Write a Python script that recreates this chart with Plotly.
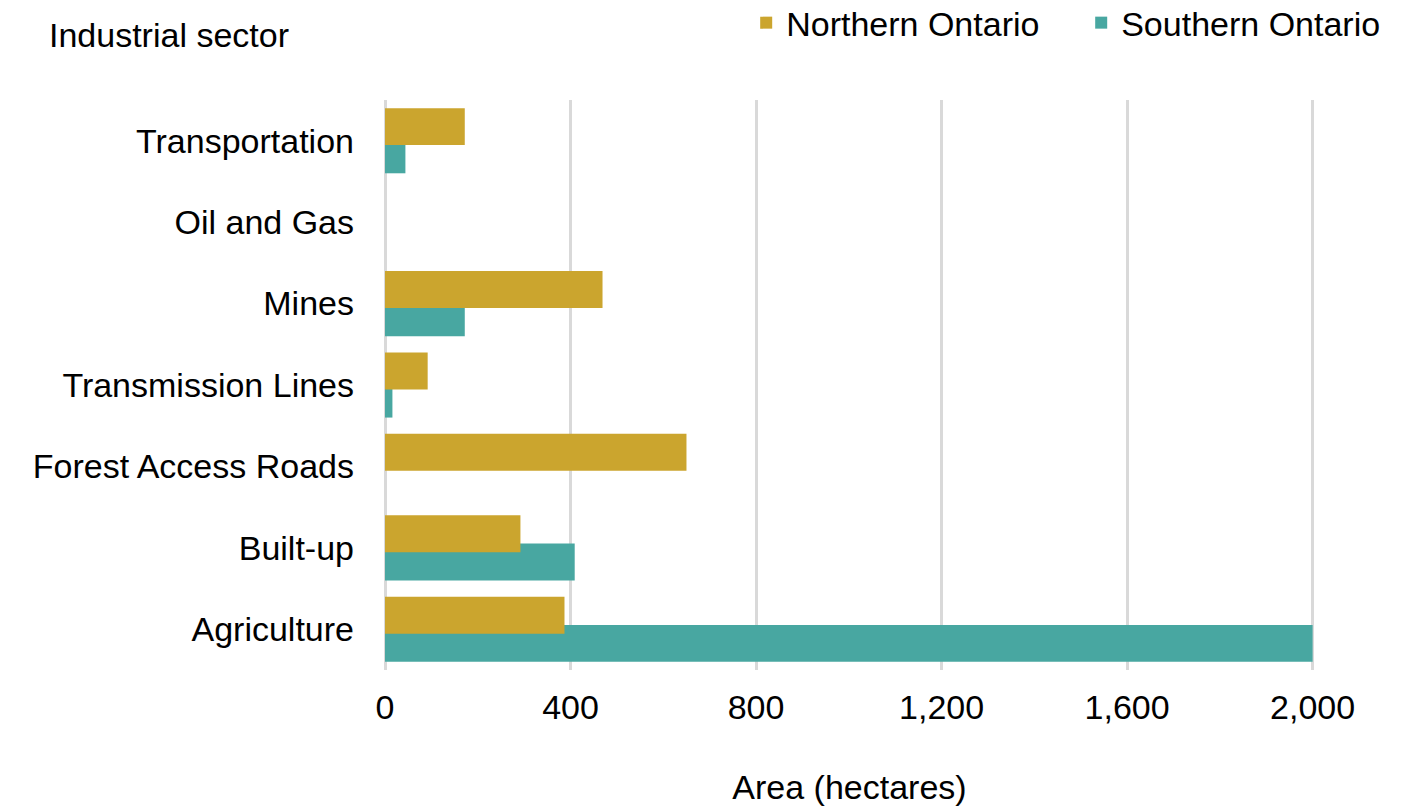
import plotly.graph_objects as go

categories = ["Transportation", "Oil and Gas", "Mines", "Transmission Lines",
              "Forest Access Roads", "Built-up", "Agriculture"]
northern = [172, 0, 469, 92, 650, 292, 387]
southern = [44, 0, 172, 16, 0, 409, 2000]
x_ticks = [0, 400, 800, 1200, 1600, 2000]

GOLD = "#CBA52E"
TEAL = "#48A7A1"
GRID = "#D9D9D9"
FONT = "Liberation Sans, Arial, sans-serif"
FS = 34

fig = go.Figure()
fig.add_trace(go.Bar(
    y=categories, x=southern, orientation="h", name="Southern Ontario",
    marker=dict(color=TEAL, line=dict(width=0)), offset=-0.054, width=0.454,
    legendrank=2,
))
fig.add_trace(go.Bar(
    y=categories, x=northern, orientation="h", name="Northern Ontario",
    marker=dict(color=GOLD, line=dict(width=0)), offset=-0.4, width=0.454,
    legendrank=1,
))

fig.update_layout(
    width=1421, height=807,
    barmode="overlay",
    plot_bgcolor="white", paper_bgcolor="white",
    margin=dict(l=385, r=107, t=100, b=137, autoexpand=False),
    font=dict(family=FONT, size=FS, color="#000000"),
    showlegend=True,
    legend=dict(orientation="h", x=1.11, xanchor="right", y=1.135, yanchor="middle",
                font=dict(size=FS), bgcolor="rgba(0,0,0,0)", itemwidth=30,
                entrywidth=290, tracegroupgap=0),
    xaxis=dict(range=[0, 2003], tickvals=x_ticks, tickformat=",",
               showgrid=True, gridcolor=GRID, gridwidth=2.5,
               zeroline=True, zerolinecolor=GRID, zerolinewidth=2.5,
               showline=False, ticks="", ticklabelstandoff=14,
               title=dict(text="Area (hectares)", standoff=50, font=dict(size=FS)),
               tickfont=dict(size=FS)),
    yaxis=dict(categoryorder="array", categoryarray=categories,
               range=[6.5, -0.5], showgrid=False, zeroline=False, showline=False,
               ticks="", ticklabelstandoff=30, tickfont=dict(size=FS)),
    annotations=[dict(text="Industrial sector", xref="paper", yref="paper",
                      x=(47 - 385) / 929, y=1 + (100 - 35) / 570,
                      xanchor="left", yanchor="middle", showarrow=False,
                      font=dict(size=FS))],
)

fig.write_html("out.html")
